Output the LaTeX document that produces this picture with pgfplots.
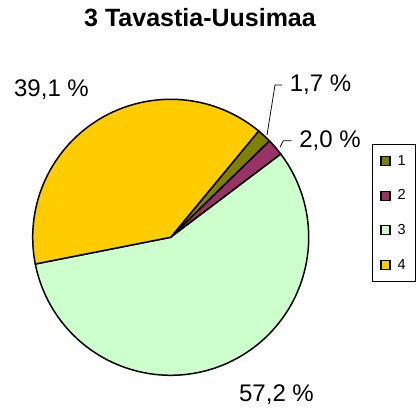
\documentclass[border=0pt]{standalone}
\usepackage{pgfplots}
\pgfplotsset{compat=1.18}
\usepackage{fontspec}
\setmainfont{Liberation Sans}
\definecolor{cOne}{RGB}{128,128,0}
\definecolor{cTwo}{RGB}{153,51,102}
\definecolor{cThree}{RGB}{204,255,204}
\definecolor{cFour}{RGB}{255,204,0}
% data (percent)
\def\pA{1.7}
\def\pB{2.0}
\def\pC{57.2}
\def\pD{39.1}
\def\cx{170.7}
\def\cy{171.7}
\def\rr{138}
\def\startang{50.4}
\begin{document}
\begin{tikzpicture}
\pgfmathsetmacro{\aA}{\startang}
\pgfmathsetmacro{\aB}{\aA-3.6*\pA}
\pgfmathsetmacro{\aC}{\aB-3.6*\pB}
\pgfmathsetmacro{\aD}{\aC-3.6*\pC}
\pgfmathsetmacro{\aE}{\aD-3.6*\pD}
\begin{axis}[
  scale only axis, width=417bp, height=409bp,
  xmin=0, xmax=417, ymin=0, ymax=409,
  hide axis, clip=false,
  legend style={at={(axis cs:372,265)}, anchor=north west, draw=black, line width=0.75bp,
    font=\fontsize{14.5bp}{16bp}\selectfont, inner xsep=8bp, inner ysep=9bp, row sep=19bp,
    column sep=5bp, nodes={inner sep=2bp}},
  legend cell align=left,
  area legend,
  legend image code/.code={\draw[#1,line width=1.3bp] (0bp,-4.5bp) rectangle (9bp,4.5bp);},
]
\addplot[fill=cOne, draw=black, line width=1.5bp, domain=\aB:\aA, samples=10] ({\cx+\rr*cos(x)},{\cy+\rr*sin(x)}) -- (axis cs:\cx,\cy) -- cycle;
\addplot[fill=cTwo, draw=black, line width=1.5bp, domain=\aC:\aB, samples=10] ({\cx+\rr*cos(x)},{\cy+\rr*sin(x)}) -- (axis cs:\cx,\cy) -- cycle;
\addplot[fill=cThree, draw=black, line width=1.5bp, domain=\aD:\aC, samples=120] ({\cx+\rr*cos(x)},{\cy+\rr*sin(x)}) -- (axis cs:\cx,\cy) -- cycle;
\addplot[fill=cFour, draw=black, line width=1.5bp, domain=\aE:\aD, samples=90] ({\cx+\rr*cos(x)},{\cy+\rr*sin(x)}) -- (axis cs:\cx,\cy) -- cycle;
\legend{1,2,3,4}
\draw[black, line width=0.75bp] (axis cs:267,274) -- (axis cs:275,324) -- (axis cs:282,324);
\draw[black, line width=0.75bp] (axis cs:280,261.7) -- (axis cs:283.3,268.3) -- (axis cs:291.7,268.3);
\node[anchor=base, font=\fontsize{24bp}{28bp}\selectfont, inner sep=0pt] at (axis cs:51.5,312) {39,1 \%};
\node[anchor=base, font=\fontsize{24bp}{28bp}\selectfont, inner sep=0pt] at (axis cs:320.5,317) {1,7 \%};
\node[anchor=base, font=\fontsize{24bp}{28bp}\selectfont, inner sep=0pt] at (axis cs:330,261) {2,0 \%};
\node[anchor=base, font=\fontsize{24bp}{28bp}\selectfont, inner sep=0pt] at (axis cs:276.5,7) {57,2 \%};
\node[anchor=base, font=\bfseries\fontsize{25bp}{30bp}\selectfont, inner sep=0pt] at (axis cs:200,382) {3 Tavastia-Uusimaa};
\end{axis}
\pgfresetboundingbox
\path (0,0) rectangle (417bp,409bp);
\end{tikzpicture}
\end{document}
